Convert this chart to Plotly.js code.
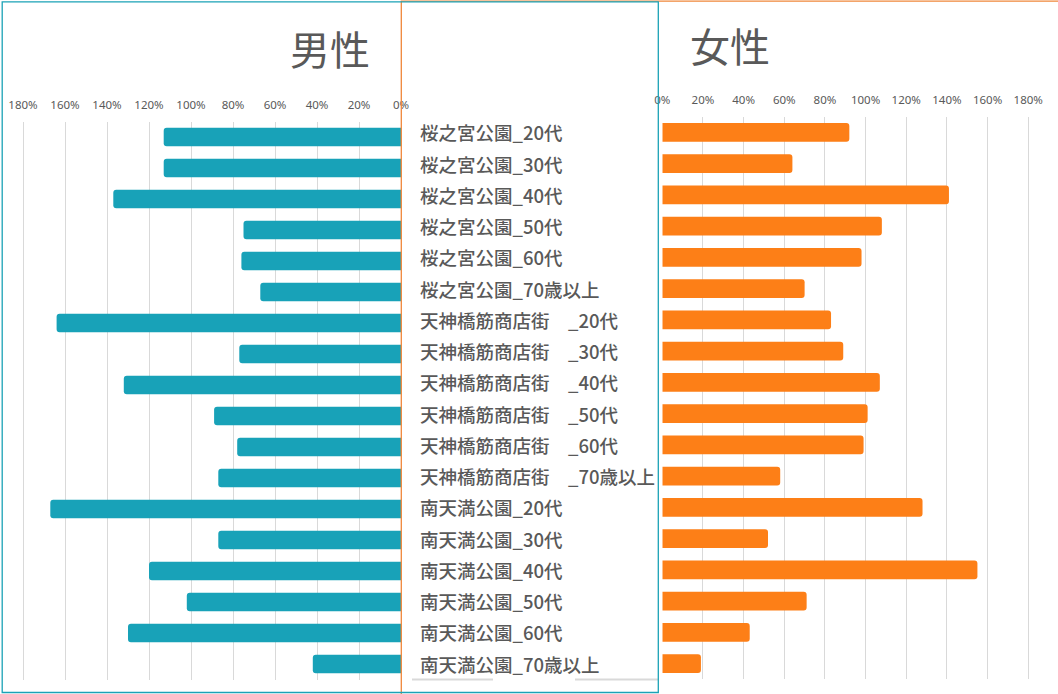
<!DOCTYPE html>
<html>
<head>
<meta charset="utf-8">
<script src="https://cdn.plot.ly/plotly-3.0.1.min.js"></script>
<style>html,body{margin:0;padding:0;background:#fff;}#chart{width:1058px;height:694px;}</style>
</head>
<body>
<div id="chart"></div>
<script>
const categories = [
  "桜之宮公園_20代","桜之宮公園_30代","桜之宮公園_40代","桜之宮公園_50代","桜之宮公園_60代","桜之宮公園_70歳以上",
  "天神橋筋商店街　_20代","天神橋筋商店街　_30代","天神橋筋商店街　_40代","天神橋筋商店街　_50代","天神橋筋商店街　_60代","天神橋筋商店街　_70歳以上",
  "南天満公園_20代","南天満公園_30代","南天満公園_40代","南天満公園_50代","南天満公園_60代","南天満公園_70歳以上"
];
const male   = [1.13,1.13,1.37,0.75,0.76,0.67,1.64,0.77,1.32,0.89,0.78,0.87,1.67,0.87,1.20,1.02,1.30,0.42];
const female = [0.92,0.64,1.41,1.08,0.98,0.70,0.83,0.89,1.07,1.01,0.99,0.58,1.28,0.52,1.55,0.71,0.43,0.19];
const titleMale = "男性";
const titleFemale = "女性";

const W = 1058, H = 694;
const px = v => v / W;
const py = v => (H - v) / H;
const grey = "#595959";
const tickFont = {family: "Noto Sans, sans-serif", size: 11.5, color: grey};

const traces = [
  {type: "bar", orientation: "h", x: male, y: categories, xaxis: "x", yaxis: "y",
   marker: {color: "#18a2b8", cornerradius: 3}, hoverinfo: "x+y"},
  {type: "bar", orientation: "h", x: female, y: categories, xaxis: "x2", yaxis: "y2",
   marker: {color: "#fd7f17", cornerradius: 3}, hoverinfo: "x+y"}
];

const xcommon = {
  side: "top", tickformat: ".0%", tick0: 0, dtick: 0.2,
  showgrid: true, gridcolor: "#d9d9d9", gridwidth: 1,
  zeroline: false, showline: false, ticks: "", tickfont: tickFont,
  ticklabelstandoff: 9, fixedrange: true
};
const ycommon = {
  type: "category", categoryorder: "array", categoryarray: categories,
  autorange: "reversed", showticklabels: false, showgrid: false,
  zeroline: false, showline: false, ticks: "", fixedrange: true
};

const annotations = categories.map(c => ({
  text: c, x: px(417.5), xref: "paper", y: c, yref: "y2",
  xanchor: "left", yanchor: "middle", showarrow: false,
  font: {family: "Noto Sans CJK JP", size: 18.5, color: grey, weight: 500}
}));
annotations.push({text: titleMale, x: px(330), y: py(48), xref: "paper", yref: "paper",
  xanchor: "center", yanchor: "middle", showarrow: false,
  font: {family: "Noto Sans CJK JP", size: 40, color: grey}});
annotations.push({text: titleFemale, x: px(730), y: py(45), xref: "paper", yref: "paper",
  xanchor: "center", yanchor: "middle", showarrow: false,
  font: {family: "Noto Sans CJK JP", size: 40, color: grey}});

const shapes = [
  {type: "line", xref: "paper", yref: "paper", x0: px(412), x1: px(493), y0: py(679.5), y1: py(679.5),
   line: {color: "#d9d9d9", width: 2}, layer: "below"},
  {type: "line", xref: "paper", yref: "paper", x0: px(575), x1: px(658), y0: py(679.5), y1: py(679.5),
   line: {color: "#d9d9d9", width: 2}, layer: "below"},
  {type: "rect", xref: "paper", yref: "paper", x0: px(401.3), x1: px(1075), y0: py(1.2), y1: py(710),
   line: {color: "#f0873a", width: 1.3}, layer: "above"},
  {type: "rect", xref: "paper", yref: "paper", x0: px(2.2), x1: px(658.3), y0: py(1.8), y1: py(692.5),
   line: {color: "#1ba2b6", width: 1.3}, layer: "above"}
];

const layout = {
  width: W, height: H, margin: {l: 0, r: 0, t: 0, b: 0},
  paper_bgcolor: "#fff", plot_bgcolor: "rgba(0,0,0,0)",
  showlegend: false, bargap: 0.4,
  xaxis: Object.assign({}, xcommon, {domain: [px(401 - 1.85 * 210), px(401)], range: [1.85, 0], anchor: "y"}),
  yaxis: Object.assign({}, ycommon, {domain: [py(679.5), py(121.5)], anchor: "x"}),
  xaxis2: Object.assign({}, xcommon, {domain: [px(662.3), px(662.3 + 1.85 * 203.3)], range: [0, 1.85], anchor: "y2"}),
  yaxis2: Object.assign({}, ycommon, {domain: [py(679.3), py(116.7)], anchor: "x2"}),
  annotations: annotations, shapes: shapes
};

Plotly.newPlot("chart", traces, layout, {displayModeBar: false, staticPlot: true});
</script>
</body>
</html>
